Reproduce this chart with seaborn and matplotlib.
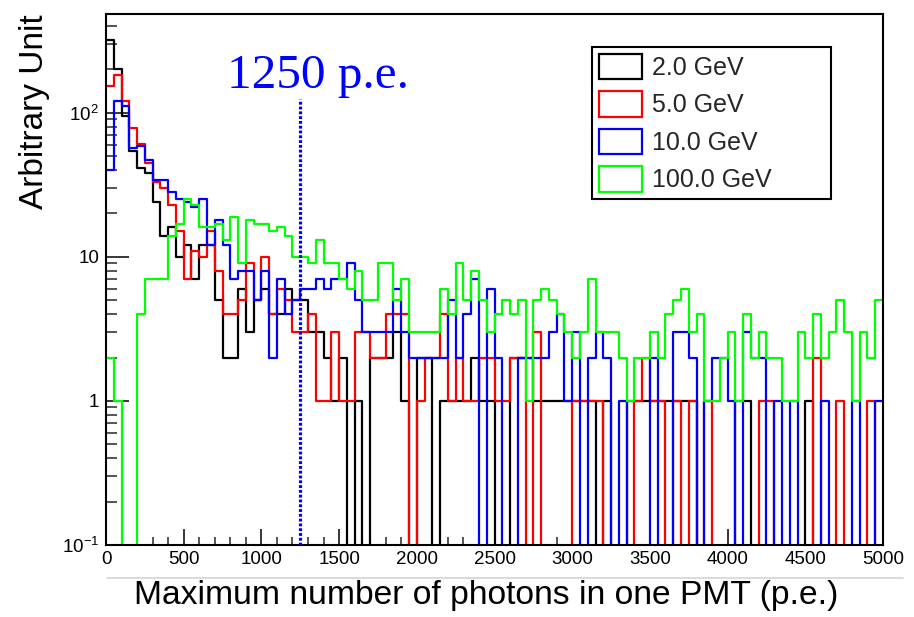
import numpy as np
import pandas as pd
import matplotlib
matplotlib.use("Agg")
import matplotlib.pyplot as plt
import seaborn as sns
from matplotlib.patches import Patch
from matplotlib.lines import Line2D
from matplotlib.ticker import FixedLocator, FixedFormatter, MultipleLocator, LogLocator, NullFormatter

# Histogram binning (p.e.)
bin_width = 50
x_min, x_max = 0, 5000

energies = ["2.0 GeV", "5.0 GeV", "10.0 GeV", "100.0 GeV"]
line_colors = ["#000000", "#ff0000", "#0000ff", "#00ff00"]

# Entries per 50 p.e. bin, 0 .. 5000 p.e.
counts_2gev = [320, 200, 95, 54, 41, 38, 24, 14, 16, 10,
               12, 7, 12, 12, 5, 2, 2, 6, 3, 5,
               6, 4, 4, 6, 5, 5, 3, 3, 2, 1,
               2, 0, 1, 0, 2, 2, 2, 3, 1, 0,
               2, 2, 0, 1, 1, 1, 1, 2, 1, 1,
               0, 0, 2, 2, 2, 1, 1, 1, 1, 1,
               1, 1, 1, 0, 1, 0, 0, 1, 1, 1,
               1, 1, 1, 1, 1, 1, 0, 0, 0, 0,
               0, 1, 1, 0, 0, 0, 0, 0, 0, 0,
               1, 0, 0, 0, 0, 0, 0, 0, 0, 0]
counts_5gev = [153, 183, 120, 78, 61, 45, 33, 30, 23, 15,
               7, 11, 10, 15, 8, 4, 4, 5, 9, 5,
               10, 4, 6, 5, 3, 3, 4, 1, 1, 3,
               1, 1, 3, 3, 2, 2, 4, 4, 4, 0,
               1, 2, 2, 4, 1, 2, 1, 1, 2, 2,
               1, 1, 2, 2, 0, 3, 0, 0, 0, 0,
               1, 1, 1, 1, 0, 0, 0, 0, 1, 2,
               1, 1, 0, 1, 0, 1, 0, 1, 0, 0,
               0, 0, 0, 0, 1, 1, 0, 0, 0, 0,
               0, 2, 0, 0, 1, 0, 0, 0, 1, 0]
counts_10gev = [40, 120, 112, 57, 59, 47, 34, 34, 28, 25,
                24, 22, 25, 12, 18, 12, 7, 8, 8, 5,
                8, 2, 7, 4, 5, 6, 6, 7, 6, 7,
                7, 9, 5, 3, 3, 3, 3, 6, 3, 2,
                2, 2, 2, 2, 5, 2, 4, 7, 0, 6,
                2, 0, 0, 2, 2, 2, 2, 3, 4, 1,
                3, 0, 2, 3, 2, 0, 1, 0, 0, 0,
                2, 0, 0, 3, 3, 2, 0, 1, 2, 2,
                1, 0, 3, 2, 2, 0, 1, 0, 1, 0,
                0, 0, 1, 0, 0, 0, 1, 0, 0, 1]
counts_100gev = [2, 1, 0, 0, 4, 7, 7, 7, 14, 17,
                 25, 23, 16, 16, 17, 13, 19, 9, 18, 17,
                 17, 15, 16, 14, 10, 10, 9, 13, 9, 9,
                 7, 6, 8, 5, 5, 9, 9, 5, 7, 3,
                 3, 3, 3, 6, 4, 9, 5, 8, 5, 3,
                 4, 5, 4, 5, 1, 5, 6, 5, 4, 3,
                 2, 3, 7, 3, 3, 3, 2, 1, 2, 2,
                 3, 2, 4, 5, 6, 3, 4, 1, 1, 2,
                 3, 1, 4, 2, 3, 2, 2, 1, 1, 3,
                 2, 4, 2, 3, 5, 3, 1, 3, 2, 5]

threshold_pe = 1250
threshold_top = 125
threshold_label = "1250 p.e."

y_min, y_max = 0.1, 484
y_ticks = [0.1, 1, 10, 100]
y_tick_labels = [r"$10^{-1}$", "1", "10", r"$10^{2}$"]

sns.set_theme(style="ticks")
plt.rcParams["font.family"] = ["Liberation Sans", "DejaVu Sans"]
plt.rcParams["mathtext.fontset"] = "custom"
plt.rcParams["mathtext.rm"] = "Liberation Sans"
plt.rcParams["mathtext.it"] = "Liberation Sans:italic"
plt.rcParams["mathtext.bf"] = "Liberation Sans:bold"

fig = plt.figure(figsize=(9.14, 6.17), dpi=100)
ax = fig.add_axes([106 / 914, 1 - 545 / 617, 777 / 914, 531 / 617])

centers = np.arange(x_min, x_max, bin_width) + bin_width / 2

series = [counts_2gev, counts_5gev, counts_10gev, counts_100gev]
for label, color, counts in zip(energies, line_colors, series):
    frame = pd.DataFrame({"pe": centers, "entries": counts})
    sns.histplot(data=frame, x="pe", weights="entries",
                 binwidth=bin_width, binrange=(x_min, x_max),
                 element="step", fill=False, color=color, linewidth=1.6,
                 ax=ax)

ax.set_yscale("log")
ax.set_xlim(x_min, x_max)
ax.set_ylim(y_min, y_max)

# threshold marker
ax.plot([threshold_pe, threshold_pe], [y_min, threshold_top], color="#0000ff",
        linewidth=2.3, linestyle=(0, (0.9, 0.6)), dash_capstyle="butt", zorder=5)
ax.text((318 - 106) / 777, (545 - 88) / 531, threshold_label,
        transform=ax.transAxes, ha="center", va="baseline",
        fontsize=35.5, color="#0000ff", family=["Liberation Serif", "DejaVu Serif"])

# axes styling
for spine in ax.spines.values():
    spine.set_linewidth(1.5)
    spine.set_color("black")

ax.xaxis.set_major_locator(MultipleLocator(500))
ax.xaxis.set_minor_locator(MultipleLocator(100))
ax.yaxis.set_major_locator(FixedLocator(y_ticks))
ax.yaxis.set_major_formatter(FixedFormatter(y_tick_labels))
ax.yaxis.set_minor_locator(LogLocator(base=10, subs=np.arange(2, 10)))
ax.yaxis.set_minor_formatter(NullFormatter())

ax.tick_params(axis="x", which="major", direction="in", length=11.5, width=1.1,
               labelsize=13.5, pad=4, top=False, colors="black")
ax.tick_params(axis="x", which="minor", direction="in", length=6, width=1.1, top=False)
ax.tick_params(axis="y", which="major", direction="in", length=16.5, width=1.1,
               labelsize=13.5, pad=5, right=False, colors="black")
ax.tick_params(axis="y", which="minor", direction="in", length=8, width=1.1, right=False)

ax.set_xlabel("Maximum number of photons in one PMT (p.e.)", fontsize=24.2, color="black")
ax.set_ylabel("Arbitrary Unit", fontsize=24, color="black")
ax.xaxis.set_label_coords((486 - 106) / 777, (545 - 580) / 531)
ax.xaxis.label.set_verticalalignment("top")
ax.yaxis.set_label_coords((50 - 106) / 777, 1.0)
ax.yaxis.label.set_horizontalalignment("right")

handles = [Patch(facecolor="none", edgecolor=c, linewidth=1.6) for c in line_colors]
leg = ax.legend(handles, energies, loc="upper left",
                bbox_to_anchor=((592 - 106) / 777, 0.0, (831 - 592) / 777, (545 - 47) / 531),
                mode="expand", borderaxespad=0, fontsize=18,
                handlelength=1.72, handleheight=1.2, handletextpad=0.42,
                labelspacing=0.45, borderpad=0.26, frameon=True, fancybox=False,
                framealpha=1, edgecolor="black")
leg.get_frame().set_linewidth(1.5)

# slide separator beneath the chart
fig.add_artist(Line2D([107 / 914, 903 / 914], [1 - 578 / 617, 1 - 578 / 617],
                      color="#d4d4d4", linewidth=1.2))

fig.savefig("out.png", dpi=100, facecolor="white")
